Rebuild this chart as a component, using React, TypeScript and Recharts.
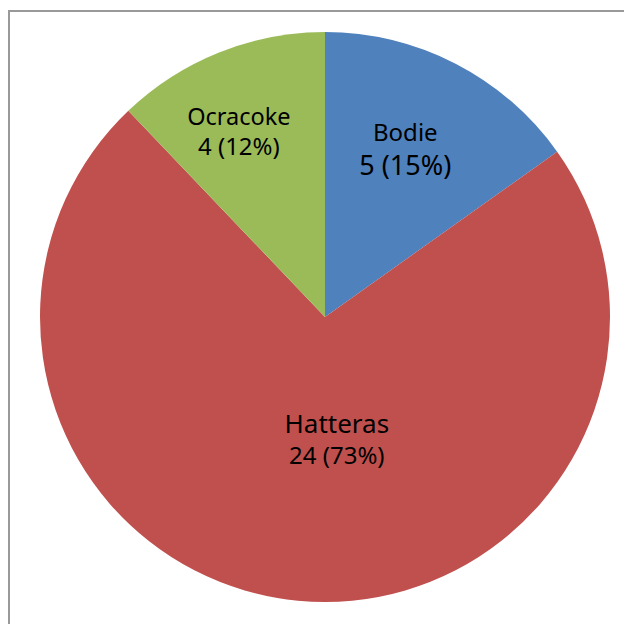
import React from "react";
import { PieChart, Pie, Cell } from "recharts";

const islands = ["Bodie", "Hatteras", "Ocracoke"];
const counts = [5, 24, 4];
const percents = [15, 73, 12];

const COLORS: Record<string, string> = {
  Bodie: "#4F81BD",
  Hatteras: "#C0504D",
  Ocracoke: "#9BBB59",
};

// where Excel's "best fit" put each label, as a fraction of the radius
// plus a small turn away from the slice middle
const LABEL_SPOT: Record<string, { r: number; turn: number; nameSize: number; valueSize: number; gap: number }> = {
  Bodie: { r: 0.66, turn: 2, nameSize: 24, valueSize: 27, gap: 34 },
  Hatteras: { r: 0.43, turn: 11, nameSize: 26, valueSize: 24, gap: 31 },
  Ocracoke: { r: 0.72, turn: 3, nameSize: 23.5, valueSize: 24, gap: 30 },
};

const RAD = Math.PI / 180;

const chartData = islands.map((name, i) => ({
  name,
  value: counts[i],
  percent: percents[i],
}));

function SliceLabel(props: any) {
  const { cx, cy, midAngle, outerRadius, payload } = props;
  const spot = LABEL_SPOT[payload.name];
  const angle = midAngle + spot.turn;
  const r = outerRadius * spot.r;
  const x = cx + r * Math.cos(-angle * RAD);
  const y = cy + r * Math.sin(-angle * RAD) - 6;
  return (
    <g>
      <text
        x={x}
        y={y}
        textAnchor="middle"
        fill="#000"
        fontSize={spot.nameSize}
        fontFamily="'Noto Sans', sans-serif"
      >
        {payload.name}
      </text>
      <text
        x={x}
        y={y + spot.gap}
        textAnchor="middle"
        fill="#000"
        fontSize={spot.valueSize}
        fontFamily="'Noto Sans', sans-serif"
      >
        {`${payload.value} (${payload.percent}%)`}
      </text>
    </g>
  );
}

export default function App() {
  return (
    <div style={{ width: 624, height: 616, overflow: "hidden", position: "relative" }}>
      <div
        style={{
          position: "absolute",
          left: 0,
          top: 2,
          width: 700,
          height: 700,
          borderLeft: "2px solid #999",
          borderTop: "2px solid #999",
          boxSizing: "border-box",
        }}
      />
      <PieChart width={624} height={616} style={{ position: "absolute", left: 0, top: 0 }}>
        <Pie
          data={chartData}
          dataKey="value"
          nameKey="name"
          cx={312}
          cy={304}
          outerRadius={285}
          startAngle={90}
          endAngle={-270}
          stroke="none"
          labelLine={false}
          label={SliceLabel}
          isAnimationActive={false}
        >
          {chartData.map((d) => (
            <Cell key={d.name} fill={COLORS[d.name]} />
          ))}
        </Pie>
      </PieChart>
    </div>
  );
}
